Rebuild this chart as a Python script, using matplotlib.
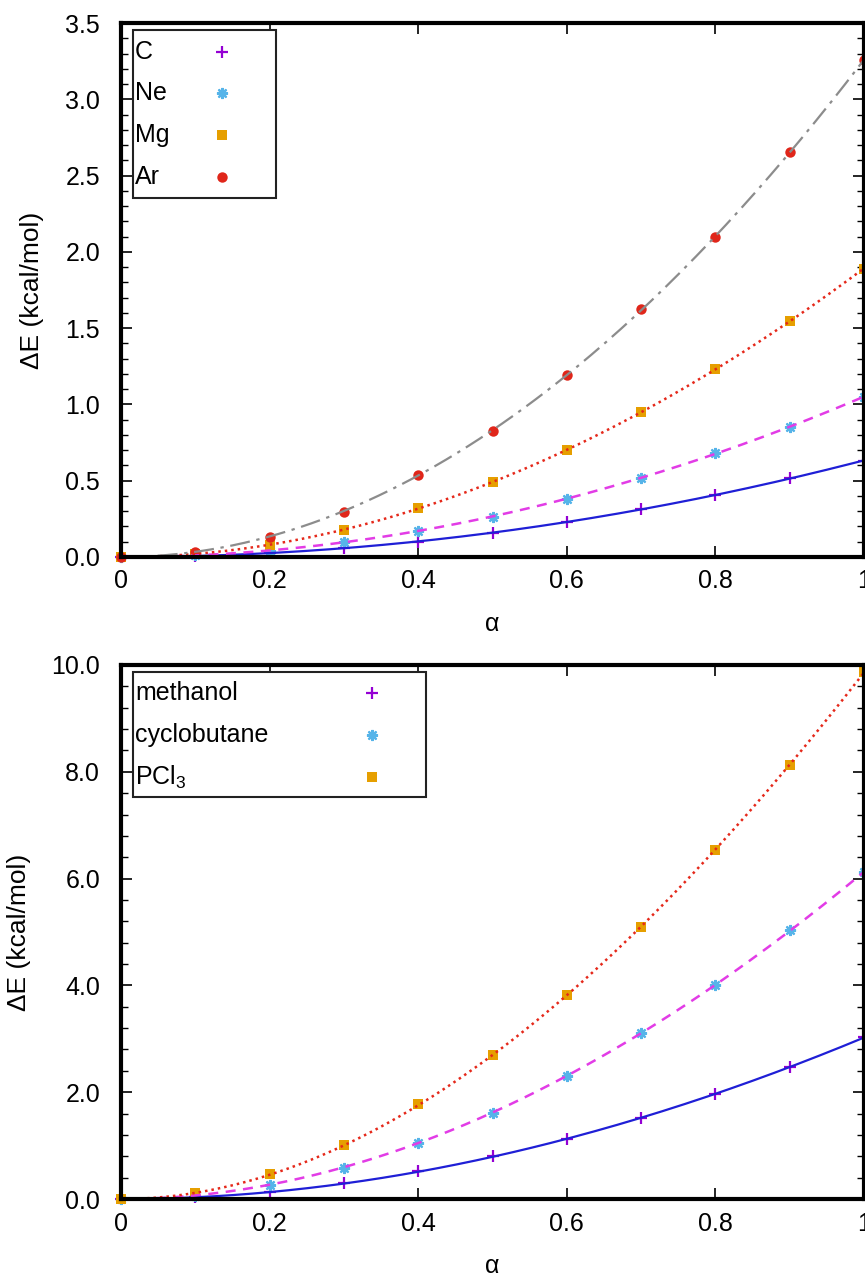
import matplotlib
matplotlib.use('Agg')
import matplotlib.pyplot as plt
from matplotlib.patches import Rectangle
from matplotlib.ticker import MultipleLocator, FormatStrFormatter, FuncFormatter
import numpy as np

plt.rcParams['font.family'] = ['Liberation Sans', 'DejaVu Sans']
plt.rcParams['mathtext.fontset'] = 'custom'
plt.rcParams['mathtext.rm'] = 'Liberation Sans'
plt.rcParams['mathtext.default'] = 'regular'
plt.rcParams['font.size'] = 18

alpha = [0.0, 0.1, 0.2, 0.3, 0.4, 0.5, 0.6, 0.7, 0.8, 0.9, 1.0]

# top panel: atoms
e_c = [0.0, 0.006, 0.025, 0.057, 0.101, 0.158, 0.231, 0.312, 0.406, 0.516, 0.632]
e_ne = [0.0, 0.011, 0.042, 0.097, 0.170, 0.265, 0.380, 0.520, 0.679, 0.854, 1.05]
e_mg = [0.0, 0.02, 0.080, 0.177, 0.318, 0.492, 0.701, 0.948, 1.230, 1.549, 1.89]
e_ar = [0.0, 0.033, 0.129, 0.297, 0.538, 0.828, 1.193, 1.623, 2.100, 2.652, 3.26]

# bottom panel: molecules
e_meoh = [0.0, 0.03, 0.13, 0.30, 0.52, 0.80, 1.12, 1.52, 1.96, 2.47, 3.03]
e_cb = [0.0, 0.06, 0.26, 0.59, 1.05, 1.62, 2.30, 3.11, 4.01, 5.03, 6.12]
e_pcl3 = [0.0, 0.12, 0.46, 1.01, 1.77, 2.70, 3.82, 5.10, 6.53, 8.13, 9.87]

PURPLE = '#9400d3'
SKY = '#56b4e9'
ORANGE = '#e69f00'
RED = '#e0261a'

pt_styles = [
    dict(marker='+', color=PURPLE, ms=8, mew=1.6),
    dict(marker=(8, 2, 0), color=SKY, ms=8, mew=1.6),
    dict(marker='s', color=ORANGE, ms=6.5, mew=0),
    dict(marker='o', color=RED, ms=7.5, mew=0),
]
fit_styles = [
    dict(color='#1f1fd6', ls='-', lw=1.6),
    dict(color='#e23ce6', ls=(0, (4, 3)), lw=1.8),
    dict(color='#e5281a', ls=(0, (1, 1.6)), lw=1.8),
    dict(color='#8c8c8c', ls=(0, (9, 3, 1.5, 3)), lw=1.6),
]


def fit_curve(xs, y, xf):
    # least squares with a*x^2 + b*x^3 (passes through the origin)
    basis = np.column_stack([xs ** 2, xs ** 3])
    coef, *_ = np.linalg.lstsq(basis, np.array(y), rcond=None)
    return coef[0] * xf ** 2 + coef[1] * xf ** 3


def key_box(ax, labels, x1, y0, key_x):
    # gnuplot-style key: text left aligned, sample on the right
    x0, y1 = 0.016, 0.987
    ax.add_patch(Rectangle((x0, y0), x1 - x0, y1 - y0, transform=ax.transAxes,
                           fill=True, facecolor='white', edgecolor='#222222',
                           lw=1.5, zorder=5))
    step = 0.0785
    for i, lab in enumerate(labels):
        ty = 0.9467 - i * step
        ax.text(0.019, ty, lab, transform=ax.transAxes, ha='left', va='center',
                fontsize=18, zorder=6)
        ax.plot([key_x], [ty], transform=ax.transAxes, ls='none', zorder=6,
                clip_on=False, **pt_styles[i])


def draw_panel(ax, series, labels, ymax, ymajor, ymin, yfmt, box_x1, box_y0, key_x):
    xs = np.array(alpha)
    xf = np.linspace(0, 1, 200)
    for i, y in enumerate(series):
        ax.plot(xs, y, ls='none', clip_on=False, zorder=3, **pt_styles[i])
    for i, y in enumerate(series):
        ax.plot(xf, fit_curve(xs, y, xf), zorder=4, **fit_styles[i])

    ax.set_xlim(0, 1)
    ax.set_ylim(0, ymax)
    ax.xaxis.set_major_locator(MultipleLocator(0.2))
    ax.xaxis.set_major_formatter(FuncFormatter(lambda v, p: '%g' % round(v, 2)))
    ax.yaxis.set_major_locator(MultipleLocator(ymajor))
    ax.yaxis.set_minor_locator(MultipleLocator(ymin))
    ax.yaxis.set_major_formatter(FormatStrFormatter(yfmt))
    ax.tick_params(which='both', direction='in', top=True, right=True, labelsize=18)
    ax.tick_params(which='major', length=8, width=1.2)
    ax.tick_params(which='minor', length=5, width=1.0)
    ax.tick_params(axis='x', pad=9)
    ax.tick_params(axis='y', pad=15)
    for sp in ax.spines.values():
        sp.set_linewidth(3)
        sp.set_zorder(7)
    ax.set_xlabel('α', labelpad=13)
    ax.set_ylabel('ΔE (kcal/mol)', labelpad=15, fontsize=19)
    key_box(ax, labels, box_x1, box_y0, key_x)


fig = plt.figure(figsize=(8.65, 12.81), dpi=100)
ax1 = fig.add_axes([0.1399, 0.5652, 0.8590, 0.4168])
ax2 = fig.add_axes([0.1399, 0.0640, 0.8590, 0.4169])

draw_panel(ax1, [e_c, e_ne, e_mg, e_ar], ['C', 'Ne', 'Mg', 'Ar'],
           3.5, 0.5, 0.1, '%.1f', 0.2086, 0.6723, 0.1359)
draw_panel(ax2, [e_meoh, e_cb, e_pcl3], ['methanol', 'cyclobutane', 'PCl$_3$'],
           10.0, 2.0, 0.4, '%.1f', 0.4105, 0.7528, 0.3378)

fig.savefig('out.png', dpi=100)
